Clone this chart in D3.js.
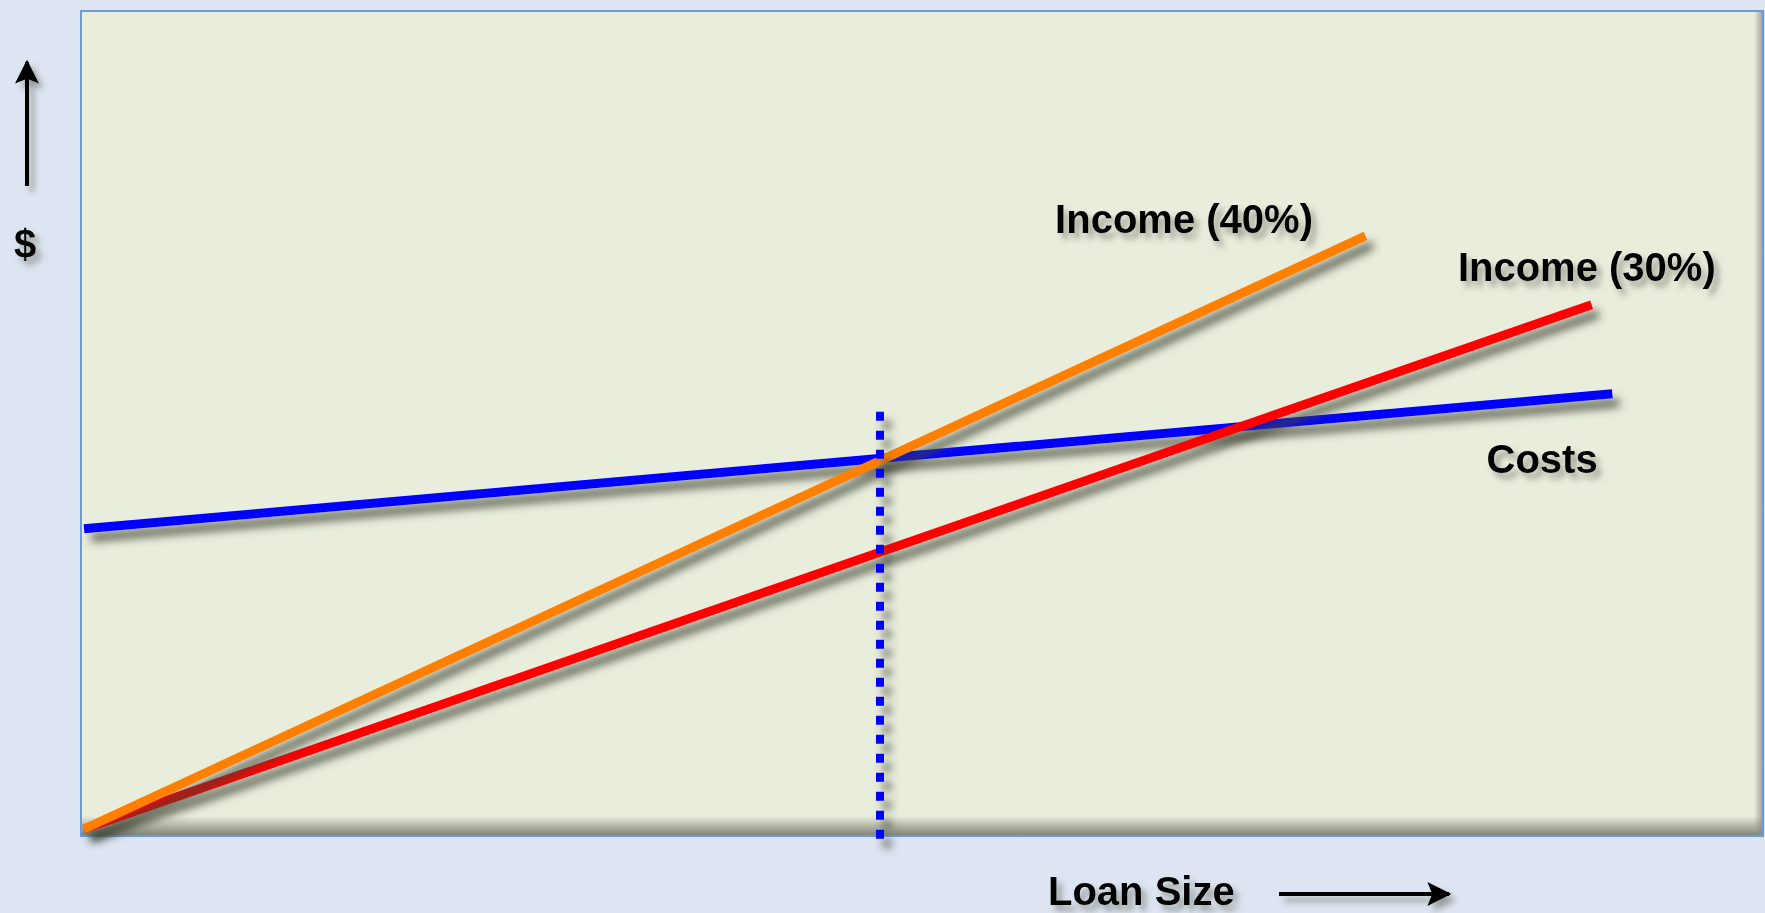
<!DOCTYPE html>
<html>
<head>
<meta charset="utf-8">
<script src="https://cdn.jsdelivr.net/npm/d3@7"></script>
<style>
	html, body { margin: 0; padding: 0; background: #dce5f1; overflow: hidden; }
	text { font-family: "Liberation Sans", Arial, sans-serif; font-weight: bold; }
</style>
</head>
<body>
<div id="main"></div>
<script>
// loan size on x, dollars on y (both in arbitrary units 0..100)
var incomeHigh = [[0, 0], [80.5, 72.5]];
var incomeLow = [[0, 0], [94.7, 64.1]];
var costs = [[0, 36.7], [96, 53.2]];
var breakEven = [[50, 51], [50, -1.2]];

var lineNames = ["Income (40%)", "Income (30%)", "Costs"];
var lineColors = ["#ff8000", "#ff0000", "#0000ff"];
// where each label sits, in data units (left end of text, baseline)
var labelSpots = [[61, 72.9], [86.3, 67], [88.1, 43.5]];

var xTitle = "Loan Size";
var yTitle = "$";

var chart = (function(){
	"use strict";

	var width = 1765, height = 913;
	var plot = {left: 81, top: 11, right: 1763, bottom: 836};
	var svg = {};

	var x = d3.scaleLinear().domain([0, 100]).range([84, 1676]);
	var y = d3.scaleLinear().domain([0, 100]).range([829, 11]);

	// shadow filter in page units, so flat lines (zero-size bbox) still render
	function addShadow(defs, id, blur, dx, dy, color, opacity){
		var f = defs.append("filter").attr("id", id)
			.attr("filterUnits", "userSpaceOnUse")
			.attr("x", 0).attr("y", 0).attr("width", width).attr("height", height);
		f.append("feGaussianBlur").attr("in", "SourceAlpha").attr("stdDeviation", blur).attr("result", "blur");
		f.append("feOffset").attr("in", "blur").attr("dx", dx).attr("dy", dy).attr("result", "off");
		f.append("feFlood").attr("flood-color", color).attr("flood-opacity", opacity);
		f.append("feComposite").attr("in2", "off").attr("operator", "in").attr("result", "sh");
		var m = f.append("feMerge");
		m.append("feMergeNode").attr("in", "sh");
		m.append("feMergeNode").attr("in", "SourceGraphic");
	}

	function init(label){
		svg = d3.select(label).append("svg").attr("width", width).attr("height", height);
		var defs = svg.append("defs");

		addShadow(defs, "shadow", 4, 7, 9, "#3f4435", 0.75);
		addShadow(defs, "tshadow", 3, 5, 6, "#5f6356", 0.55);

		var gb = defs.append("linearGradient").attr("id", "botShade").attr("x1", 0).attr("y1", 0).attr("x2", 0).attr("y2", 1);
		gb.append("stop").attr("offset", "0%").attr("stop-color", "#7d8073").attr("stop-opacity", 0);
		gb.append("stop").attr("offset", "100%").attr("stop-color", "#7d8073").attr("stop-opacity", 1);
		var gr = defs.append("linearGradient").attr("id", "rightShade").attr("x1", 0).attr("y1", 0).attr("x2", 1).attr("y2", 0);
		gr.append("stop").attr("offset", "0%").attr("stop-color", "#8a8d80").attr("stop-opacity", 0);
		gr.append("stop").attr("offset", "100%").attr("stop-color", "#8a8d80").attr("stop-opacity", 0.8);

		defs.append("marker").attr("id", "arrow")
			.attr("viewBox", "0 0 10 10").attr("refX", 9).attr("refY", 5)
			.attr("markerUnits", "userSpaceOnUse").attr("markerWidth", 24).attr("markerHeight", 24)
			.attr("orient", "auto")
			.append("path").attr("d", "M0,0L10,5L0,10L2,5Z").attr("fill", "#000");
	}

	function drawPlotArea(){
		var w = plot.right - plot.left, h = plot.bottom - plot.top;
		svg.append("rect").attr("x", plot.left).attr("y", plot.top).attr("width", w).attr("height", h)
			.attr("fill", "#e9eddc");
		svg.append("rect").attr("x", plot.left).attr("y", plot.bottom - 20).attr("width", w).attr("height", 20)
			.attr("fill", "url(#botShade)");
		svg.append("rect").attr("x", plot.right - 9).attr("y", plot.top).attr("width", 9).attr("height", h)
			.attr("fill", "url(#rightShade)");
		svg.append("rect").attr("x", plot.left).attr("y", plot.top).attr("width", w).attr("height", h)
			.attr("fill", "none").attr("stroke", "#6c9ad9").attr("stroke-width", 2);
	}

	function drawLines(){
		var line = d3.line().x(function(d){ return x(d[0]); }).y(function(d){ return y(d[1]); });
		var series = [costs, incomeLow, incomeHigh];
		var colors = [lineColors[2], lineColors[1], lineColors[0]];
		var g = svg.append("g").attr("class", "lines");
		g.selectAll("path").data(series).enter().append("path")
			.attr("d", line)
			.attr("fill", "none")
			.attr("stroke", function(d, i){ return colors[i]; })
			.attr("stroke-width", 9)
			.attr("filter", "url(#shadow)");

		svg.append("path").datum(breakEven)
			.attr("d", line)
			.attr("fill", "none")
			.attr("stroke", "#0000ff")
			.attr("stroke-width", 8)
			.attr("stroke-dasharray", "9,10")
			.attr("filter", "url(#shadow)");
	}

	function drawLabels(){
		svg.append("g").selectAll("text").data(lineNames).enter().append("text")
			.attr("x", function(d, i){ return x(labelSpots[i][0]); })
			.attr("y", function(d, i){ return y(labelSpots[i][1]); })
			.attr("font-size", 40)
			.attr("fill", "#000")
			.attr("filter", "url(#tshadow)")
			.text(function(d){ return d; });

		// axis titles with arrows
		svg.append("text").attr("x", 25).attr("y", 258).attr("text-anchor", "middle")
			.attr("font-size", 40).attr("filter", "url(#tshadow)").text(yTitle);
		svg.append("line").attr("x1", 27).attr("y1", 186).attr("x2", 27).attr("y2", 62)
			.attr("stroke", "#000").attr("stroke-width", 4).attr("marker-end", "url(#arrow)")
			.attr("filter", "url(#tshadow)");

		svg.append("text").attr("x", 1048).attr("y", 905)
			.attr("font-size", 40).attr("filter", "url(#tshadow)").text(xTitle);
		svg.append("line").attr("x1", 1279).attr("y1", 894).attr("x2", 1449).attr("y2", 894)
			.attr("stroke", "#000").attr("stroke-width", 4).attr("marker-end", "url(#arrow)")
			.attr("filter", "url(#tshadow)");
	}

	return {
		init : init,
		drawPlotArea : drawPlotArea,
		drawLines : drawLines,
		drawLabels : drawLabels
	};
})();

chart.init("#main");
chart.drawPlotArea();
chart.drawLines();
chart.drawLabels();
</script>
</body>
</html>
